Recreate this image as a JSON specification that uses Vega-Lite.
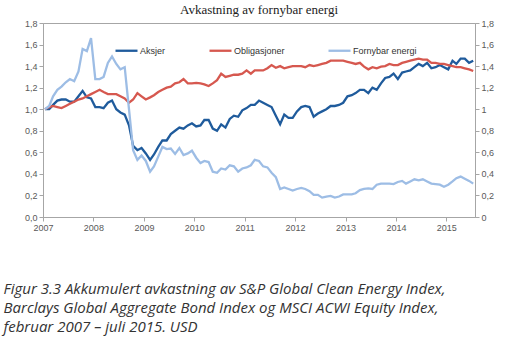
{
  "$schema": "https://vega.github.io/schema/vega-lite/v6.json",
  "width": 432,
  "height": 194,
  "autosize": "none",
  "padding": {"left": 43, "top": 23, "right": 42, "bottom": 136},
  "background": "white",
  "title": {"text": "Avkastning av fornybar energi", "font": "Liberation Serif", "fontSize": 13, "fontWeight": "normal", "color": "#222222", "anchor": "middle", "frame": "group", "baseline": "alphabetic", "offset": -8},
  "config": {"view": {"stroke": "#a6a6a6", "strokeWidth": 1}},
  "data": {"values": [
    {"d":"2007-01-15","Aksjer":1.00,"Obligasjoner":1.00,"Fornybar energi":1.00},
    {"d":"2007-02-15","Aksjer":1.00,"Obligasjoner":1.02,"Fornybar energi":1.03},
    {"d":"2007-03-15","Aksjer":1.04,"Obligasjoner":1.03,"Fornybar energi":1.12},
    {"d":"2007-04-15","Aksjer":1.08,"Obligasjoner":1.02,"Fornybar energi":1.18},
    {"d":"2007-05-15","Aksjer":1.09,"Obligasjoner":1.01,"Fornybar energi":1.21},
    {"d":"2007-06-15","Aksjer":1.09,"Obligasjoner":1.03,"Fornybar energi":1.25},
    {"d":"2007-07-15","Aksjer":1.07,"Obligasjoner":1.05,"Fornybar energi":1.28},
    {"d":"2007-08-15","Aksjer":1.07,"Obligasjoner":1.07,"Fornybar energi":1.26},
    {"d":"2007-09-15","Aksjer":1.12,"Obligasjoner":1.09,"Fornybar energi":1.35},
    {"d":"2007-10-15","Aksjer":1.17,"Obligasjoner":1.10,"Fornybar energi":1.56},
    {"d":"2007-11-15","Aksjer":1.11,"Obligasjoner":1.12,"Fornybar energi":1.54},
    {"d":"2007-12-15","Aksjer":1.10,"Obligasjoner":1.14,"Fornybar energi":1.66},
    {"d":"2008-01-15","Aksjer":1.02,"Obligasjoner":1.16,"Fornybar energi":1.28},
    {"d":"2008-02-15","Aksjer":1.02,"Obligasjoner":1.18,"Fornybar energi":1.28},
    {"d":"2008-03-15","Aksjer":1.01,"Obligasjoner":1.16,"Fornybar energi":1.30},
    {"d":"2008-04-15","Aksjer":1.06,"Obligasjoner":1.14,"Fornybar energi":1.43},
    {"d":"2008-05-15","Aksjer":1.08,"Obligasjoner":1.14,"Fornybar energi":1.49},
    {"d":"2008-06-15","Aksjer":1.00,"Obligasjoner":1.14,"Fornybar energi":1.42},
    {"d":"2008-07-15","Aksjer":0.97,"Obligasjoner":1.12,"Fornybar energi":1.37},
    {"d":"2008-08-15","Aksjer":0.95,"Obligasjoner":1.10,"Fornybar energi":1.39},
    {"d":"2008-09-15","Aksjer":0.85,"Obligasjoner":1.06,"Fornybar energi":1.00},
    {"d":"2008-10-15","Aksjer":0.66,"Obligasjoner":1.09,"Fornybar energi":0.62},
    {"d":"2008-11-15","Aksjer":0.62,"Obligasjoner":1.15,"Fornybar energi":0.53},
    {"d":"2008-12-15","Aksjer":0.64,"Obligasjoner":1.12,"Fornybar energi":0.57},
    {"d":"2009-01-15","Aksjer":0.59,"Obligasjoner":1.09,"Fornybar energi":0.52},
    {"d":"2009-02-15","Aksjer":0.53,"Obligasjoner":1.11,"Fornybar energi":0.42},
    {"d":"2009-03-15","Aksjer":0.58,"Obligasjoner":1.13,"Fornybar energi":0.47},
    {"d":"2009-04-15","Aksjer":0.65,"Obligasjoner":1.16,"Fornybar energi":0.56},
    {"d":"2009-05-15","Aksjer":0.71,"Obligasjoner":1.18,"Fornybar energi":0.65},
    {"d":"2009-06-15","Aksjer":0.71,"Obligasjoner":1.20,"Fornybar energi":0.63},
    {"d":"2009-07-15","Aksjer":0.77,"Obligasjoner":1.21,"Fornybar energi":0.635},
    {"d":"2009-08-15","Aksjer":0.80,"Obligasjoner":1.24,"Fornybar energi":0.585},
    {"d":"2009-09-15","Aksjer":0.83,"Obligasjoner":1.25,"Fornybar energi":0.64},
    {"d":"2009-10-15","Aksjer":0.82,"Obligasjoner":1.28,"Fornybar energi":0.575},
    {"d":"2009-11-15","Aksjer":0.85,"Obligasjoner":1.24,"Fornybar energi":0.59},
    {"d":"2009-12-15","Aksjer":0.87,"Obligasjoner":1.24,"Fornybar energi":0.615},
    {"d":"2010-01-15","Aksjer":0.84,"Obligasjoner":1.245,"Fornybar energi":0.55},
    {"d":"2010-02-15","Aksjer":0.85,"Obligasjoner":1.24,"Fornybar energi":0.50},
    {"d":"2010-03-15","Aksjer":0.90,"Obligasjoner":1.23,"Fornybar energi":0.52},
    {"d":"2010-04-15","Aksjer":0.90,"Obligasjoner":1.215,"Fornybar energi":0.51},
    {"d":"2010-05-15","Aksjer":0.82,"Obligasjoner":1.24,"Fornybar energi":0.42},
    {"d":"2010-06-15","Aksjer":0.80,"Obligasjoner":1.27,"Fornybar energi":0.41},
    {"d":"2010-07-15","Aksjer":0.86,"Obligasjoner":1.33,"Fornybar energi":0.45},
    {"d":"2010-08-15","Aksjer":0.83,"Obligasjoner":1.30,"Fornybar energi":0.44},
    {"d":"2010-09-15","Aksjer":0.91,"Obligasjoner":1.31,"Fornybar energi":0.48},
    {"d":"2010-10-15","Aksjer":0.94,"Obligasjoner":1.32,"Fornybar energi":0.47},
    {"d":"2010-11-15","Aksjer":0.93,"Obligasjoner":1.32,"Fornybar energi":0.42},
    {"d":"2010-12-15","Aksjer":0.99,"Obligasjoner":1.33,"Fornybar energi":0.45},
    {"d":"2011-01-15","Aksjer":1.01,"Obligasjoner":1.36,"Fornybar energi":0.46},
    {"d":"2011-02-15","Aksjer":1.04,"Obligasjoner":1.33,"Fornybar energi":0.48},
    {"d":"2011-03-15","Aksjer":1.04,"Obligasjoner":1.36,"Fornybar energi":0.53},
    {"d":"2011-04-15","Aksjer":1.08,"Obligasjoner":1.36,"Fornybar energi":0.52},
    {"d":"2011-05-15","Aksjer":1.06,"Obligasjoner":1.36,"Fornybar energi":0.47},
    {"d":"2011-06-15","Aksjer":1.04,"Obligasjoner":1.38,"Fornybar energi":0.46},
    {"d":"2011-07-15","Aksjer":1.02,"Obligasjoner":1.41,"Fornybar energi":0.41},
    {"d":"2011-08-15","Aksjer":0.94,"Obligasjoner":1.385,"Fornybar energi":0.37},
    {"d":"2011-09-15","Aksjer":0.86,"Obligasjoner":1.40,"Fornybar energi":0.26},
    {"d":"2011-10-15","Aksjer":0.95,"Obligasjoner":1.38,"Fornybar energi":0.275},
    {"d":"2011-11-15","Aksjer":0.92,"Obligasjoner":1.39,"Fornybar energi":0.26},
    {"d":"2011-12-15","Aksjer":0.92,"Obligasjoner":1.40,"Fornybar energi":0.245},
    {"d":"2012-01-15","Aksjer":0.98,"Obligasjoner":1.40,"Fornybar energi":0.26},
    {"d":"2012-02-15","Aksjer":1.02,"Obligasjoner":1.40,"Fornybar energi":0.27},
    {"d":"2012-03-15","Aksjer":1.03,"Obligasjoner":1.39,"Fornybar energi":0.26},
    {"d":"2012-04-15","Aksjer":1.02,"Obligasjoner":1.41,"Fornybar energi":0.24},
    {"d":"2012-05-15","Aksjer":0.93,"Obligasjoner":1.40,"Fornybar energi":0.205},
    {"d":"2012-06-15","Aksjer":0.96,"Obligasjoner":1.41,"Fornybar energi":0.205},
    {"d":"2012-07-15","Aksjer":0.98,"Obligasjoner":1.42,"Fornybar energi":0.18},
    {"d":"2012-08-15","Aksjer":1.00,"Obligasjoner":1.43,"Fornybar energi":0.19},
    {"d":"2012-09-15","Aksjer":1.03,"Obligasjoner":1.45,"Fornybar energi":0.195},
    {"d":"2012-10-15","Aksjer":1.03,"Obligasjoner":1.45,"Fornybar energi":0.18},
    {"d":"2012-11-15","Aksjer":1.04,"Obligasjoner":1.45,"Fornybar energi":0.19},
    {"d":"2012-12-15","Aksjer":1.06,"Obligasjoner":1.45,"Fornybar energi":0.21},
    {"d":"2013-01-15","Aksjer":1.12,"Obligasjoner":1.44,"Fornybar energi":0.21},
    {"d":"2013-02-15","Aksjer":1.13,"Obligasjoner":1.43,"Fornybar energi":0.21},
    {"d":"2013-03-15","Aksjer":1.15,"Obligasjoner":1.42,"Fornybar energi":0.22},
    {"d":"2013-04-15","Aksjer":1.18,"Obligasjoner":1.43,"Fornybar energi":0.25},
    {"d":"2013-05-15","Aksjer":1.18,"Obligasjoner":1.395,"Fornybar energi":0.26},
    {"d":"2013-06-15","Aksjer":1.15,"Obligasjoner":1.37,"Fornybar energi":0.265},
    {"d":"2013-07-15","Aksjer":1.20,"Obligasjoner":1.39,"Fornybar energi":0.26},
    {"d":"2013-08-15","Aksjer":1.18,"Obligasjoner":1.38,"Fornybar energi":0.30},
    {"d":"2013-09-15","Aksjer":1.24,"Obligasjoner":1.395,"Fornybar energi":0.31},
    {"d":"2013-10-15","Aksjer":1.29,"Obligasjoner":1.40,"Fornybar energi":0.31},
    {"d":"2013-11-15","Aksjer":1.30,"Obligasjoner":1.42,"Fornybar energi":0.31},
    {"d":"2013-12-15","Aksjer":1.33,"Obligasjoner":1.41,"Fornybar energi":0.305},
    {"d":"2014-01-15","Aksjer":1.28,"Obligasjoner":1.41,"Fornybar energi":0.325},
    {"d":"2014-02-15","Aksjer":1.34,"Obligasjoner":1.43,"Fornybar energi":0.335},
    {"d":"2014-03-15","Aksjer":1.35,"Obligasjoner":1.44,"Fornybar energi":0.31},
    {"d":"2014-04-15","Aksjer":1.36,"Obligasjoner":1.45,"Fornybar energi":0.33},
    {"d":"2014-05-15","Aksjer":1.39,"Obligasjoner":1.46,"Fornybar energi":0.35},
    {"d":"2014-06-15","Aksjer":1.42,"Obligasjoner":1.47,"Fornybar energi":0.34},
    {"d":"2014-07-15","Aksjer":1.40,"Obligasjoner":1.46,"Fornybar energi":0.35},
    {"d":"2014-08-15","Aksjer":1.43,"Obligasjoner":1.46,"Fornybar energi":0.33},
    {"d":"2014-09-15","Aksjer":1.38,"Obligasjoner":1.43,"Fornybar energi":0.31},
    {"d":"2014-10-15","Aksjer":1.39,"Obligasjoner":1.43,"Fornybar energi":0.305},
    {"d":"2014-11-15","Aksjer":1.41,"Obligasjoner":1.42,"Fornybar energi":0.30},
    {"d":"2014-12-15","Aksjer":1.39,"Obligasjoner":1.42,"Fornybar energi":0.28},
    {"d":"2015-01-15","Aksjer":1.37,"Obligasjoner":1.41,"Fornybar energi":0.30},
    {"d":"2015-02-15","Aksjer":1.45,"Obligasjoner":1.40,"Fornybar energi":0.33},
    {"d":"2015-03-15","Aksjer":1.42,"Obligasjoner":1.39,"Fornybar energi":0.36},
    {"d":"2015-04-15","Aksjer":1.47,"Obligasjoner":1.39,"Fornybar energi":0.375},
    {"d":"2015-05-15","Aksjer":1.47,"Obligasjoner":1.38,"Fornybar energi":0.355},
    {"d":"2015-06-15","Aksjer":1.43,"Obligasjoner":1.37,"Fornybar energi":0.335},
    {"d":"2015-07-15","Aksjer":1.45,"Obligasjoner":1.355,"Fornybar energi":0.31}
  ]},
  "transform": [{"fold": ["Aksjer", "Obligasjoner", "Fornybar energi"], "as": ["serie", "verdi"]}],
  "encoding": {
    "x": {
      "field": "d", "type": "temporal",
      "scale": {"type": "utc", "domain": [{"year": 2007, "month": 1, "date": 1, "utc": true}, {"year": 2015, "month": 7, "date": 28, "utc": true}]},
      "axis": {
        "values": [{"year":2007,"utc":true},{"year":2008,"utc":true},{"year":2009,"utc":true},{"year":2010,"utc":true},{"year":2011,"utc":true},{"year":2012,"utc":true},{"year":2013,"utc":true},{"year":2014,"utc":true},{"year":2015,"utc":true}],
        "format": "%Y", "grid": false, "domainColor": "#a6a6a6", "tickColor": "#a6a6a6", "tickSize": 4,
        "labelFont": "Liberation Sans", "labelFontSize": 9, "labelColor": "#595959", "labelPadding": 2, "labelFlush": false,
        "title": ["Figur 3.3 Akkumulert avkastning av S&P Global Clean Energy Index,", "Barclays Global Aggregate Bond Index og MSCI ACWI Equity Index,", "februar 2007 – juli 2015. USD"],
        "titleFont": "Open Sans", "titleFontStyle": "italic", "titleFontWeight": "normal", "titleFontSize": 15, "titleColor": "#333333",
        "titleLineHeight": 19, "titleAlign": "left", "titleBaseline": "alphabetic", "titleX": -40, "titleY": 76, "titleAngle": 0
      }
    }
  },
  "layer": [
    {
      "mark": {"type": "line", "strokeWidth": 2.3},
      "encoding": {
        "y": {"field": "verdi", "type": "quantitative", "scale": {"domain": [0, 1.8], "nice": false},
          "axis": {"orient": "left", "values": [0,0.2,0.4,0.6,0.8,1,1.2,1.4,1.6,1.8], "grid": false, "title": null,
            "labelExpr": "replace(format(datum.value, '.1f'), '.', ',')", "domainColor": "#a6a6a6", "tickColor": "#a6a6a6", "tickSize": 4,
            "labelFont": "Liberation Sans", "labelFontSize": 9, "labelColor": "#595959", "labelPadding": 2}},
        "color": {"field": "serie", "type": "nominal",
          "scale": {"domain": ["Aksjer", "Obligasjoner", "Fornybar energi"], "range": ["#1f5b9c", "#d6584f", "#9dbde5"]},
          "legend": {"title": null, "orient": "none", "direction": "horizontal", "legendX": 71, "legendY": 15,
            "symbolType": "stroke", "symbolSize": 484, "symbolStrokeWidth": 2.3, "labelFont": "Liberation Sans", "labelFontSize": 9,
            "labelColor": "#333333", "labelOffset": 1, "columnPadding": 38}},
        "order": {"field": "serie"}
      }
    },
    {
      "mark": {"type": "line", "strokeOpacity": 0},
      "encoding": {
        "y": {"field": "verdi", "type": "quantitative",
          "axis": {"orient": "right", "values": [0,0.2,0.4,0.6,0.8,1,1.2,1.4,1.6,1.8], "grid": false, "title": null,
            "labelExpr": "replace(format(datum.value, '~g'), '.', ',')", "domainColor": "#a6a6a6", "tickColor": "#a6a6a6", "tickSize": 4,
            "labelFont": "Liberation Sans", "labelFontSize": 9, "labelColor": "#595959", "labelPadding": 2}},
        "detail": {"field": "serie"}
      }
    }
  ],
  "resolve": {"axis": {"y": "independent"}}
}
